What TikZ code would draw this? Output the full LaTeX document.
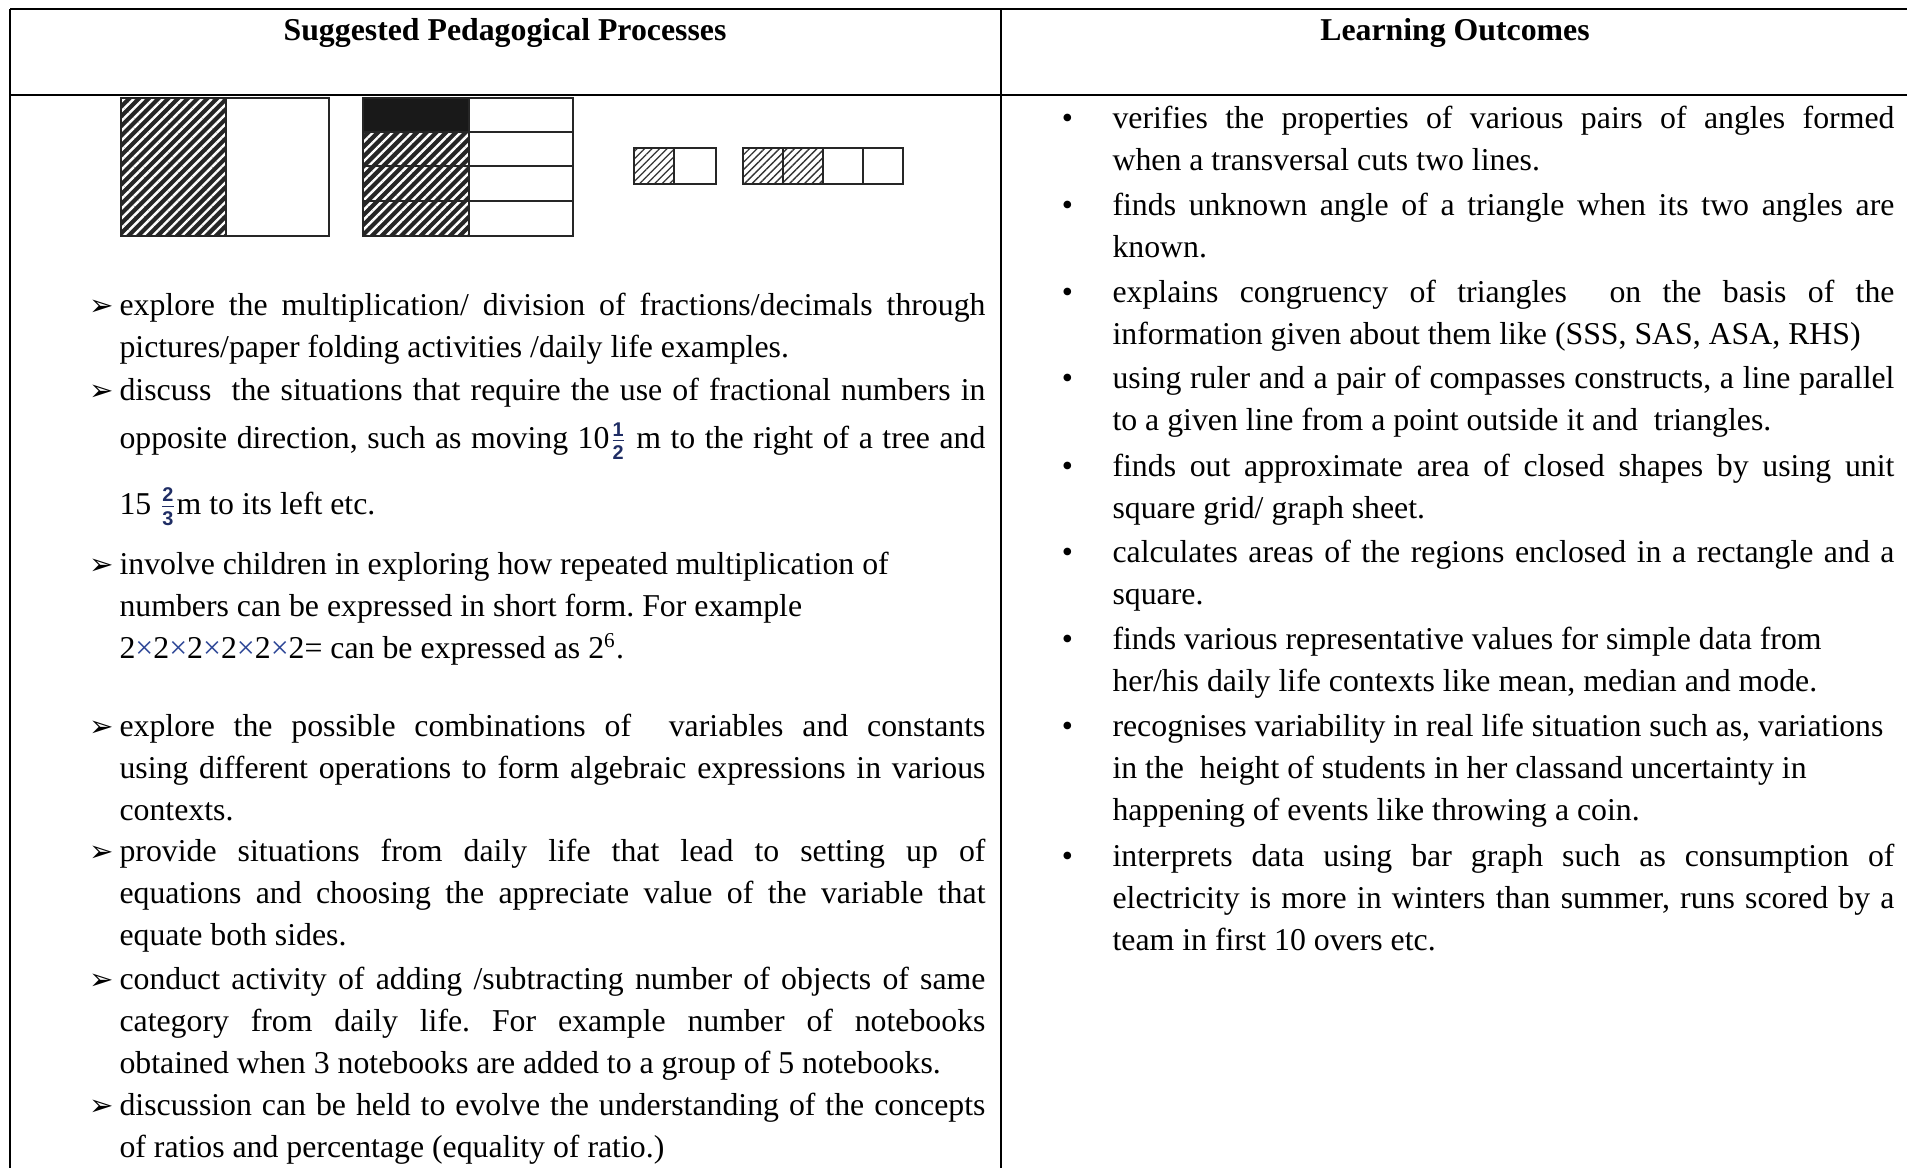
\documentclass[tikz,border=0pt]{standalone}
\usepackage{fontspec}
\setmainfont{Liberation Serif}
\newfontfamily\dingfont{DejaVu Sans}
\newfontfamily\fracfont{Liberation Sans}
\usetikzlibrary{patterns.meta}
\definecolor{fracnavy}{RGB}{31,45,100}
\definecolor{timesblue}{RGB}{45,70,150}
\frenchspacing
\newcommand{\pbul}{\llap{\makebox[13.6pt]{\dingfont\fontsize{11}{11}\selectfont ➢}}}
\newcommand{\obul}{\llap{\makebox[34pt]{•}}}
\newcommand{\fracdigit}[1]{\hbox{\fracfont\bfseries\fontsize{7.5}{7.5}\selectfont #1}}
\newcommand{\tinyfrac}[2]{{\color{fracnavy}\ensuremath{\frac{\fracdigit{#1}}{\fracdigit{#2}}}}}
\newcommand{\tms}{{\color{timesblue}×}}

\begin{document}
\begin{tikzpicture}[
  x=0.3774pt, y=-0.3774pt,
  gridline/.style={line width=0.755pt},
  figline/.style={line width=0.9pt, draw=black!85},
  densehatch/.style={pattern={Lines[angle=45,distance=2.6pt,line width=0.9pt]}, pattern color=white},
  lighthatch/.style={pattern={Lines[angle=45,distance=2pt,line width=0.5pt]}, pattern color=black!80},
  hdr/.style={anchor=base, inner sep=0pt, font=\fontsize{12}{16}\selectfont\bfseries},
  pitem/.style={anchor=base west, inner sep=0pt, text width=326.8pt, align=justify, font=\fontsize{12}{16}\selectfont},
  oitem/.style={pitem, text width=295.1pt}
]
  \useasboundingbox (0,0) rectangle (1907,1168);

  % table rules
  \draw[gridline] (10,9) -- (1907,9);
  \draw[gridline] (10,95) -- (1907,95);
  \draw[gridline] (10,9) -- (10,1168);
  \draw[gridline] (1001,9) -- (1001,1168);

  \node[hdr] (hdrL) at (505,40.5) {Suggested Pedagogical Processes};
  \node[hdr] (hdrR) at (1455,40.5) {Learning Outcomes};

  % fraction pictures
  \fill[black!85] (121,98) rectangle (226,236);
  \fill[densehatch] (121,98) rectangle (226,236);
  \draw[figline] (121,98) rectangle (329,236) (226,98) -- (226,236);

  \fill[black!90] (363,98) rectangle (469,132);
  \fill[black!85] (363,132) rectangle (469,236);
  \fill[densehatch] (363,132) rectangle (469,236);
  \draw[figline] (363,98) rectangle (573,236) (469,98) -- (469,236);
  \foreach \yy in {132,166,201} \draw[figline] (363,\yy) -- (573,\yy);

  \fill[lighthatch] (634,148) rectangle (674,184);
  \draw[figline] (634,148) rectangle (716,184) (674,148) -- (674,184);
  \fill[lighthatch] (743,148) rectangle (823,184);
  \draw[figline] (743,148) rectangle (903,184);
  \foreach \xx in {783,823,863} \draw[figline] (\xx,148) -- (\xx,184);

  % left column
  \node[pitem] (p1) at (119,315) {\pbul explore the multiplication/ division of fractions/decimals through\linebreak pictures/paper folding activities /daily life examples.};
  \node[pitem] (p2) at (119,400) {\pbul discuss\ \ the situations that require the use of fractional numbers in\vspace{2.4pt}\linebreak opposite direction, such as moving 10\tinyfrac{1}{2} m to the right of a tree and\vspace{8.8pt}\linebreak 15 \tinyfrac{2}{3}m to its left etc.};
  \node[pitem] (p3) at (119,574) {\pbul involve children in exploring how repeated multiplication of\\ numbers can be expressed in short form. For example\\ 2\tms2\tms2\tms2\tms2\tms2= can be expressed as 2\textsuperscript{6}.};
  \node[pitem] (p4) at (119,736) {\pbul explore the possible combinations of\ \ variables and constants\linebreak using different operations to form algebraic expressions in various\linebreak contexts.};
  \node[pitem] (p5) at (119,861) {\pbul provide situations from daily life that lead to setting up of\linebreak equations and choosing the appreciate value of the variable that\linebreak equate both sides.};
  \node[pitem] (p6) at (119,989) {\pbul conduct activity of adding /subtracting number of objects of same\linebreak category from daily life. For example number of notebooks\linebreak obtained when 3 notebooks are added to a group of 5 notebooks.};
  \node[pitem] (p7) at (119,1115) {\pbul discussion can be held to evolve the understanding of the concepts\linebreak of ratios and percentage (equality of ratio.)};

  % right column
  \node[oitem] (o1) at (1112,128) {\obul verifies the properties of various pairs of angles formed\linebreak when a transversal cuts two lines.};
  \node[oitem] (o2) at (1112,215) {\obul finds unknown angle of a triangle when its two angles are\linebreak known.};
  \node[oitem] (o3) at (1112,302) {\obul explains congruency of triangles\ \ on the basis of the\linebreak information given about them like (SSS, SAS, ASA, RHS)};
  \node[oitem] (o4) at (1112,388) {\obul using ruler and a pair of compasses constructs, a line parallel\linebreak to a given line from a point outside it and\ \ triangles.};
  \node[oitem] (o5) at (1112,476) {\obul finds out approximate area of closed shapes by using unit\linebreak square grid/ graph sheet.};
  \node[oitem] (o6) at (1112,562) {\obul calculates areas of the regions enclosed in a rectangle and a\linebreak square.};
  \node[oitem] (o7) at (1112,649) {\obul finds various representative values for simple data from\\ her/his daily life contexts like mean, median and mode.};
  \node[oitem] (o8) at (1112,736) {\obul recognises variability in real life situation such as, variations\\ in the\ \ height of students in her classand uncertainty in\\ happening of events like throwing a coin.};
  \node[oitem] (o9) at (1112,866) {\obul interprets data using bar graph such as consumption of\linebreak electricity is more in winters than summer, runs scored by a\linebreak team in first 10 overs etc.};
\end{tikzpicture}
\end{document}
